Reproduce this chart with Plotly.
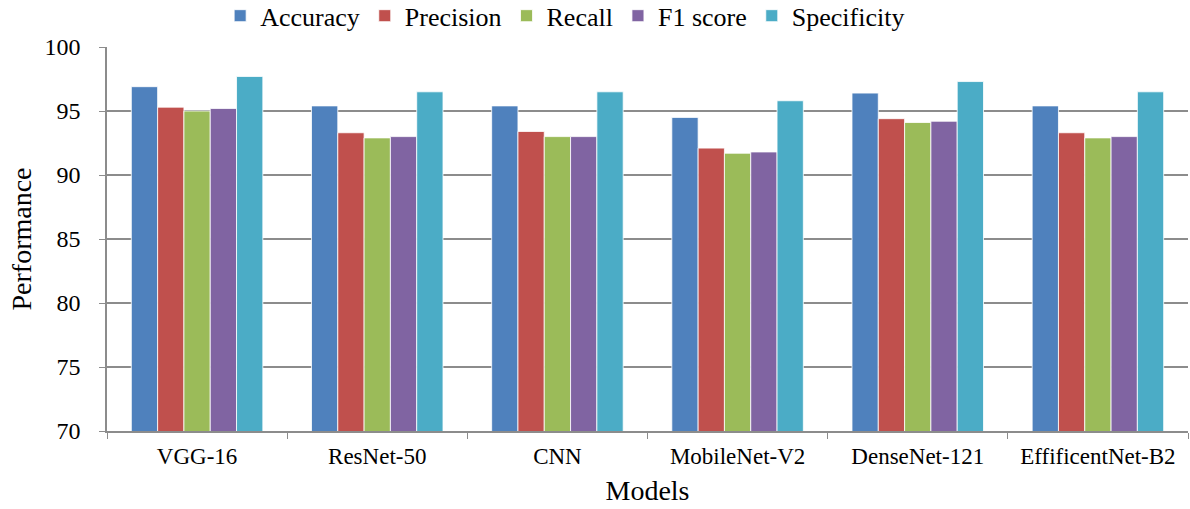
import plotly.graph_objects as go

models = ["VGG-16", "ResNet-50", "CNN", "MobileNet-V2", "DenseNet-121", "EffificentNet-B2"]
accuracy = [96.9, 95.4, 95.4, 94.5, 96.4, 95.4]
precision = [95.3, 93.3, 93.4, 92.1, 94.4, 93.3]
recall = [95.0, 92.9, 93.0, 91.7, 94.1, 92.9]
f1_score = [95.2, 93.0, 93.0, 91.8, 94.2, 93.0]
specificity = [97.7, 96.5, 96.5, 95.8, 97.3, 96.5]

series = [
    ("Accuracy", accuracy, "#4F81BD"),
    ("Precision", precision, "#C0504D"),
    ("Recall", recall, "#9BBB59"),
    ("F1 score", f1_score, "#8064A2"),
    ("Specificity", specificity, "#4BACC6"),
]

fig = go.Figure()
for name, vals, col in series:
    fig.add_trace(go.Bar(x=models, y=vals, name=name, marker_color=col,
                         marker_line=dict(color="rgba(255,255,255,0.8)", width=1)))

font = "Liberation Serif, Times New Roman, serif"
fig.update_layout(
    width=1190, height=509,
    margin=dict(l=107, r=2, t=47, b=78, autoexpand=False),
    paper_bgcolor="white", plot_bgcolor="white",
    barmode="group", bargap=0.27, bargroupgap=0.0,
    font=dict(family=font, size=22, color="black"),
    legend=dict(orientation="h", x=0.185, xanchor="left", xref="container",
                y=0.969, yanchor="middle", yref="container",
                font=dict(size=26), traceorder="normal", itemwidth=30),
    xaxis=dict(title=dict(text="Models", font=dict(size=28), standoff=12),
               tickson="boundaries", ticks="outside", ticklen=6, tickcolor="#8c8c8c",
               showline=True, linecolor="#8c8c8c", linewidth=1.5,
               tickfont=dict(size=23), showgrid=False, automargin=False,
               ticklabelstandoff=4),
    yaxis=dict(title=dict(text="Performance", font=dict(size=28), standoff=5),
               range=[70, 100], dtick=5, ticks="outside", ticklen=6, tickcolor="#8c8c8c",
               showline=True, linecolor="#8c8c8c", linewidth=1.5,
               gridcolor="#8c8c8c", gridwidth=1.5, tickfont=dict(size=24),
               zeroline=False, automargin=False, ticklabelstandoff=14),
)

fig.write_html("out.html", config={"displayModeBar": False},
               post_script="document.body.style.margin='0';")
